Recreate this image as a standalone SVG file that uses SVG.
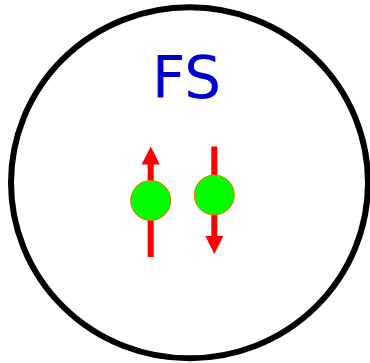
<svg xmlns="http://www.w3.org/2000/svg" width="370" height="363" viewBox="0 0 370 363">
<style>
.spin{stroke:#ff0000;stroke-width:6;fill:none}
.head{fill:#ff0000}
.ball{fill:#00ff00;stroke:#ff6600;stroke-width:1}
</style>
<rect width="370" height="363" fill="#ffffff"/>
<g id="fs">
<ellipse cx="189.5" cy="182.8" rx="178.5" ry="175.5" fill="none" stroke="#000000" stroke-width="6"/>
<text x="186.5" y="98" text-anchor="middle" font-family="DejaVu Sans, sans-serif" font-size="58" fill="#0000cc">FS</text>
</g>
<g id="connectors">
<line class="spin" x1="150.7" y1="162" x2="150.7" y2="257"/>
<polygon class="head" points="150.7,146.5 159.8,164.5 141.6,164.5"/>
<line class="spin" x1="214.3" y1="146.5" x2="214.3" y2="238"/>
<polygon class="head" points="214.3,254 223.3,236 205.3,236"/>
</g>
<g id="spin-up"><circle class="ball" cx="150.7" cy="200.5" r="20"/></g>
<g id="spin-down"><circle class="ball" cx="214.3" cy="195" r="20"/></g>
</svg>
